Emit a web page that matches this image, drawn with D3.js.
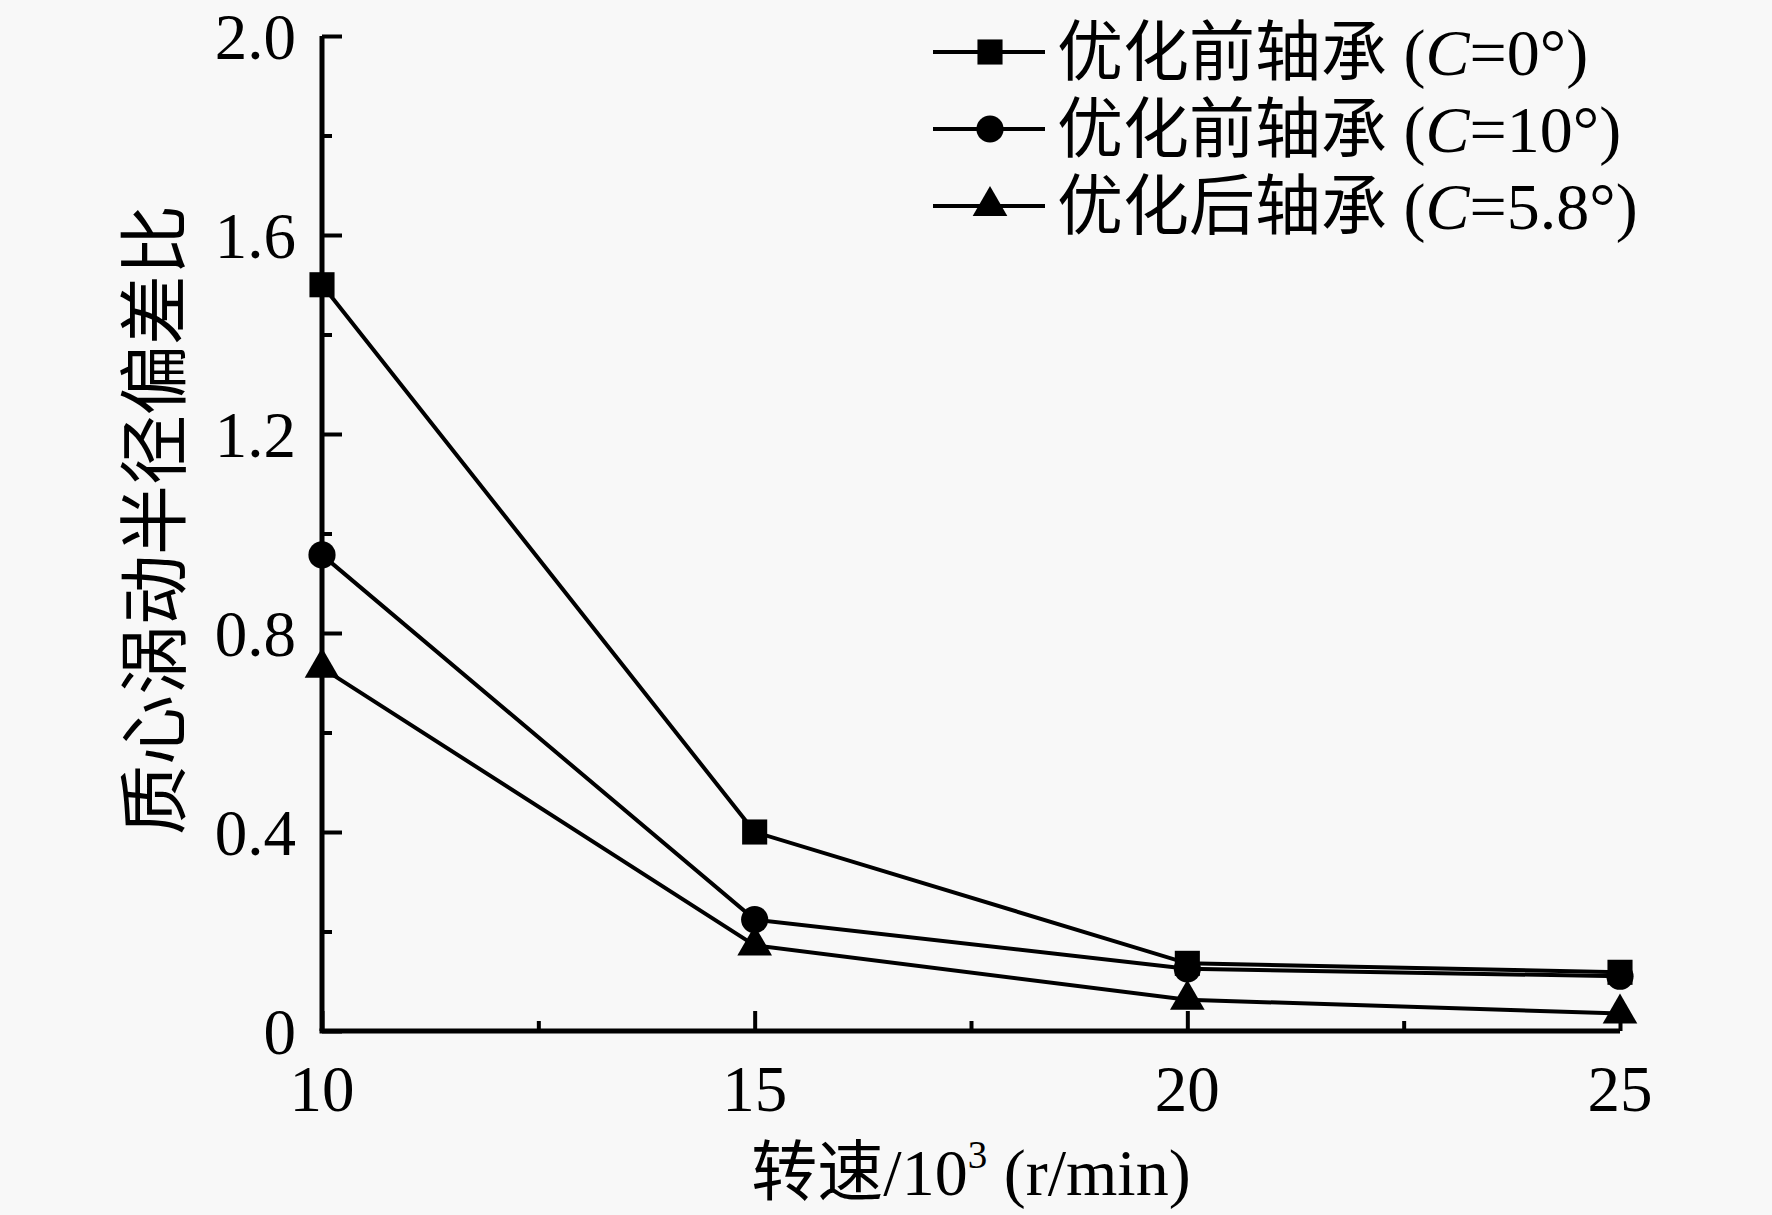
<!DOCTYPE html>
<html>
<head>
<meta charset="utf-8">
<script src="https://cdn.jsdelivr.net/npm/d3@7"></script>
<style>
  body { margin: 0; background: #f8f8f8; }
  svg { display: block; }
  text { font-family: "Liberation Serif", "Noto Sans CJK SC", serif; fill: #000; }
</style>
</head>
<body>
<svg id="chart" width="1772" height="1215"></svg>
<script>
// speed, 10^3 r/min
var speeds = [10, 15, 20, 25];
// ratio of centroid whirl radius deviation
var seriesNames = ["优化前轴承 (C=0°)", "优化前轴承 (C=10°)", "优化后轴承 (C=5.8°)"];
var legendPre = ["优化前轴承 (", "优化前轴承 (", "优化后轴承 ("];
var legendPost = ["=0°)", "=10°)", "=5.8°)"];
var valuesC0 = [1.50, 0.40, 0.136, 0.118];
var valuesC10 = [0.957, 0.224, 0.125, 0.110];
var valuesC58 = [0.73, 0.172, 0.063, 0.035];
var yTicks = [0, 0.4, 0.8, 1.2, 1.6, 2.0];
var yMinor = [0.2, 0.6, 1.0, 1.4, 1.8];
var xTicks = [10, 15, 20, 25];
var xMinor = [12.5, 17.5, 22.5];

var allSeries = [valuesC0, valuesC10, valuesC58];
var symbols = [d3.symbolSquare, d3.symbolCircle, d3.symbolTriangle];
var symbolSizes = [630, 580, 520];

let svg = d3.select("#chart");

let margin = { left: 322, top: 36, right: 152, bottom: 184 };
let plotWidth = 1772 - margin.left - margin.right;
let plotHeight = 1215 - margin.top - margin.bottom;

let x = d3.scaleLinear().domain([10, 25]).range([0, plotWidth]);
let y = d3.scaleLinear().domain([0, 2.0]).range([plotHeight, 0]);

let plot = svg.append("g")
    .attr("transform", "translate(" + margin.left + "," + margin.top + ")");

// Y axis (ticks inside)
let yAxis = d3.axisRight(y).tickValues(yTicks).tickSize(20).tickFormat("");
let yGroup = plot.append("g").call(yAxis);
let yMinorGroup = plot.append("g").call(d3.axisRight(y).tickValues(yMinor).tickSize(10).tickFormat(""));

// X axis (ticks inside)
let xAxis = d3.axisTop(x).tickValues(xTicks).tickSize(20).tickFormat("");
let xGroup = plot.append("g").attr("transform", "translate(0," + plotHeight + ")").call(xAxis);
let xMinorGroup = plot.append("g").attr("transform", "translate(0," + plotHeight + ")")
    .call(d3.axisTop(x).tickValues(xMinor).tickSize(10).tickFormat(""));

[yGroup, yMinorGroup, xGroup, xMinorGroup].forEach(function (g) {
    g.select(".domain").attr("stroke", "#000").attr("stroke-width", 5);
    g.selectAll(".tick line").attr("stroke", "#000").attr("stroke-width", 4);
});
yMinorGroup.select(".domain").remove();
xMinorGroup.select(".domain").remove();
yGroup.select(".domain").attr("d", "M0," + plotHeight + "V0");
xGroup.select(".domain").attr("d", "M-2.5,0H" + plotWidth);

// Tick labels
plot.selectAll(".ylab").data(yTicks).enter().append("text")
    .attr("x", -26)
    .attr("y", (d) => y(d))
    .attr("dy", "0.35em")
    .attr("text-anchor", "end")
    .style("font-size", "65px")
    .text((d) => d === 0 ? "0" : d.toFixed(1));

plot.selectAll(".xlab").data(xTicks).enter().append("text")
    .attr("x", (d) => x(d))
    .attr("y", plotHeight + 80)
    .attr("text-anchor", "middle")
    .style("font-size", "65px")
    .text((d) => d);

// Lines and markers
let line = d3.line()
    .x((d, i) => x(speeds[i]))
    .y((d) => y(d));

allSeries.forEach(function (vals, k) {
    plot.append("path")
        .attr("d", line(vals))
        .attr("fill", "none")
        .attr("stroke", "#000")
        .attr("stroke-width", 4);
    plot.selectAll(".m" + k).data(vals).enter().append("path")
        .attr("transform", (d, i) => "translate(" + x(speeds[i]) + "," + y(d) + ")")
        .attr("d", d3.symbol().type(symbols[k]).size(symbolSizes[k]))
        .attr("fill", "#000");
});

// Axis titles
let xTitle = svg.append("text")
    .attr("x", 971)
    .attr("y", 1195)
    .attr("text-anchor", "middle")
    .style("font-size", "66px");
xTitle.append("tspan").text("转速/10");
xTitle.append("tspan").attr("dy", -27).style("font-size", "39px").text("3");
xTitle.append("tspan").attr("dy", 27).text(" (r/min)");

svg.append("text")
    .attr("transform", "translate(155,520) rotate(-90)")
    .attr("text-anchor", "middle")
    .attr("dy", "0.35em")
    .style("font-size", "70px")
    .style("font-family", "'Noto Sans CJK SC', sans-serif")
    .text("质心涡动半径偏差比");

// Legend
let legendRows = [52, 129, 206];
let legend = svg.append("g");
seriesNames.forEach(function (name, k) {
    let ly = legendRows[k];
    legend.append("line")
        .attr("x1", 933).attr("x2", 1045)
        .attr("y1", ly).attr("y2", ly)
        .attr("stroke", "#000").attr("stroke-width", 4);
    legend.append("path")
        .attr("transform", "translate(990," + ly + ")")
        .attr("d", d3.symbol().type(symbols[k]).size(symbolSizes[k]))
        .attr("fill", "#000");
    let t = legend.append("text")
        .attr("x", 1057)
        .attr("y", ly + 23)
        .style("font-size", "66px");
    t.append("tspan").text(legendPre[k]);
    t.append("tspan").style("font-style", "italic").text("C");
    t.append("tspan").text(legendPost[k]);
});
</script>
</body>
</html>
